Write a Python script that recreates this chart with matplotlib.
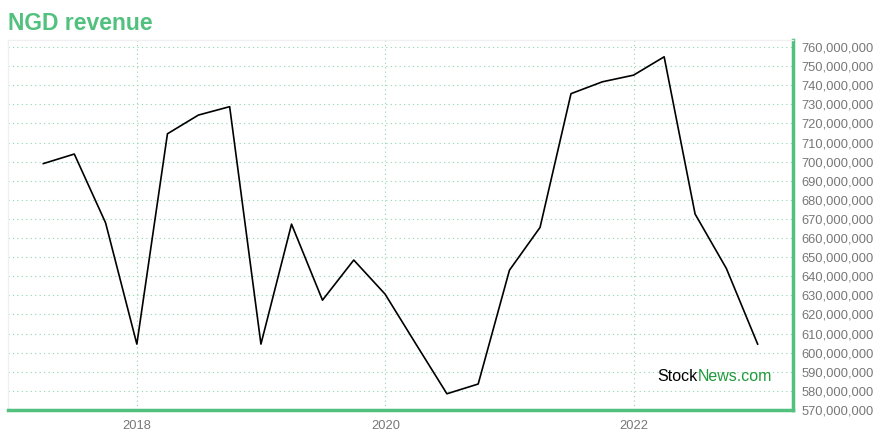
import numpy as np
import pandas as pd
import matplotlib
matplotlib.use('Agg')
import matplotlib.pyplot as plt
import matplotlib.dates as mdates
from matplotlib.ticker import FuncFormatter, MultipleLocator

plt.rcParams['font.family'] = ['Liberation Sans', 'DejaVu Sans']

# quarterly revenue
quarters = pd.date_range('2017-03-31', '2022-12-31', freq='QE')
revenue = [699, 704, 668, 604.5, 714.6, 724.4, 728.8, 604.5,
           667.3, 627.5, 648.5, 630.7, 604.5, 578.5, 583.6, 643.2,
           665.6, 735.6, 741.8, 745.3, 754.9, 672.6, 644.1, 604.5]
revenue = np.array(revenue) * 1e6

green = '#52c07e'
grid_green = '#8fd6ac'

fig = plt.figure(figsize=(8.8, 4.4), dpi=100)
ax = fig.add_axes([8 / 880, 30 / 440, 785 / 880, 370 / 440])

ax.plot(quarters, revenue, color='black', lw=1.2)

ax.set_xlim(pd.Timestamp('2016-12-17'), pd.Timestamp('2023-04-14'))
ax.set_ylim(570e6, 763.7e6)

ax.xaxis.set_major_locator(mdates.YearLocator(2))
ax.xaxis.set_major_formatter(mdates.DateFormatter('%Y'))
ax.yaxis.set_major_locator(MultipleLocator(10e6))
ax.yaxis.set_major_formatter(FuncFormatter(lambda v, p: f'{v:,.0f}'))
ax.yaxis.tick_right()

ax.tick_params(axis='both', length=0, labelsize=9.3, labelcolor='#777777')
ax.tick_params(axis='y', pad=6)
ax.tick_params(axis='x', pad=7)

ax.grid(True, color=grid_green, linestyle=(0, (1, 3)), lw=0.8)

for s in ['top', 'left']:
    ax.spines[s].set_color('#f0f0f0')
    ax.spines[s].set_linewidth(1)
for s in ['right', 'bottom']:
    ax.spines[s].set_color(green)
    ax.spines[s].set_linewidth(2.5)

fig.text(8 / 880, 1 - 23 / 440, 'NGD revenue', color=green, fontsize=16.5,
         fontweight='bold', va='center', ha='left')

t1 = ax.text(0.827, 0.09, 'Stock', transform=ax.transAxes, fontsize=11.5,
             color='black', ha='left', va='center')
fig.canvas.draw()
bb = t1.get_window_extent()
x_end = ax.transAxes.inverted().transform((bb.x1, bb.y0))[0]
ax.text(x_end, 0.09, 'News.com', transform=ax.transAxes, fontsize=11.5,
        color='#1f9a3c', ha='left', va='center')

fig.savefig('out.png', dpi=100)
